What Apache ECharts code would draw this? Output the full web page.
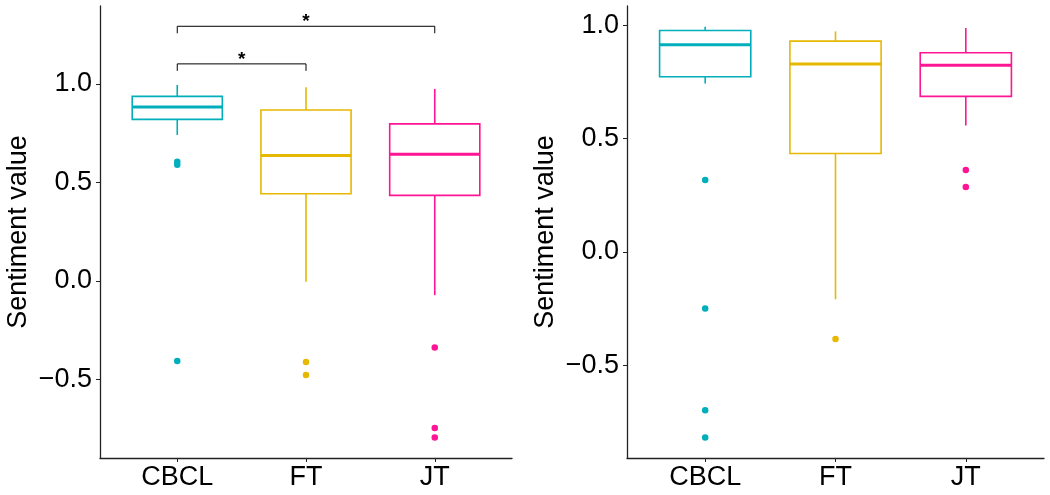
<!DOCTYPE html>
<html>
<head>
<meta charset="utf-8">
<script src="https://cdn.jsdelivr.net/npm/echarts@6.0.0/dist/echarts.min.js"></script>
<style>
html,body{margin:0;padding:0;background:#fff;}
#chart{width:1050px;height:495px;}
</style>
</head>
<body>
<div id="chart"></div>
<script>
// ---- data ----
const categories = ['CBCL', 'FT', 'JT'];
const xPositions = [1, 2, 3];
const yTicks = [-0.5, 0, 0.5, 1.0];
// [lower whisker, Q1, median, Q3, upper whisker]
const leftStats = [
  [0.741, 0.820, 0.883, 0.937, 0.995],
  [-0.005, 0.442, 0.636, 0.868, 0.983],
  [-0.073, 0.434, 0.643, 0.797, 0.975]
];
const leftOutliers = [
  [0.605, 0.590, -0.407],
  [-0.412, -0.479],
  [-0.339, -0.747, -0.796]
];
const rightStats = [
  [0.743, 0.773, 0.914, 0.977, 0.993],
  [-0.209, 0.434, 0.829, 0.930, 0.973],
  [0.558, 0.686, 0.824, 0.879, 0.988]
];
const rightOutliers = [
  [0.317, -0.250, -0.699, -0.819],
  [-0.384],
  [0.361, 0.286]
];
// significance brackets (left panel)
const bracketFrom = [0, 0];
const bracketTo = [1, 2];
const bracketLevel = [1.102, 1.293];
const bracketLabel = ['*', '*'];

// ---- style ----
const colors = ['#00AFBB', '#E7B800', '#FF1493'];
const FONT = 'Liberation Sans, Arial, Helvetica, sans-serif';
const axisColor = '#222';
const halfWidth = 0.35;

function boxRender(params, api) {
  const x = api.value(0);
  const lo = api.value(1), q1 = api.value(2), med = api.value(3), q3 = api.value(4), hi = api.value(5);
  const c = api.coord;
  const tl = c([x - halfWidth, q3]);
  const br = c([x + halfWidth, q1]);
  const pHi = c([x, hi]), pQ3 = c([x, q3]), pQ1 = c([x, q1]), pLo = c([x, lo]);
  const mL = c([x - halfWidth, med]), mR = c([x + halfWidth, med]);
  const col = colors[params.dataIndex];
  return {
    type: 'group',
    children: [
      {type: 'line', shape: {x1: pHi[0], y1: pHi[1], x2: pQ3[0], y2: pQ3[1]}, style: {stroke: col, lineWidth: 1.6}},
      {type: 'line', shape: {x1: pQ1[0], y1: pQ1[1], x2: pLo[0], y2: pLo[1]}, style: {stroke: col, lineWidth: 1.6}},
      {type: 'rect', shape: {x: tl[0], y: tl[1], width: br[0] - tl[0], height: br[1] - tl[1]}, style: {stroke: col, fill: 'none', lineWidth: 1.6}},
      {type: 'line', shape: {x1: mL[0], y1: mL[1], x2: mR[0], y2: mR[1]}, style: {stroke: col, lineWidth: 3}}
    ]
  };
}

function bracketRender(params, api) {
  const x1 = api.value(0), x2 = api.value(1), y = api.value(2);
  const a = api.coord([x1, y]);
  const b = api.coord([x2, y]);
  const drop = 7;
  return {
    type: 'group',
    children: [
      {type: 'polyline', shape: {points: [[a[0], a[1] + drop], [a[0], a[1]], [b[0], b[1]], [b[0], b[1] + drop]]},
        style: {stroke: '#000', fill: 'none', lineWidth: 1}},
      {type: 'text', x: (a[0] + b[0]) / 2, y: a[1] + 5,
        style: {text: bracketLabel[params.dataIndex], fill: '#000', font: 'bold 19px ' + FONT, align: 'center', verticalAlign: 'bottom'}}
    ]
  };
}

function makeOutlierData(outs) {
  const d = [];
  outs.forEach((arr, i) => arr.forEach(v => d.push({value: [xPositions[i], v], itemStyle: {color: colors[i], opacity: 1}})));
  return d;
}

function xAxisCfg(gi) {
  return {
    type: 'value', gridIndex: gi, min: 0.4, max: 3.6,
    axisLine: {show: true, onZero: false, lineStyle: {color: axisColor, width: 1.3}},
    axisTick: {show: true, customValues: xPositions, length: 4, lineStyle: {color: axisColor}},
    axisLabel: {customValues: xPositions, margin: 6, color: '#000', fontSize: 27, fontFamily: FONT,
      formatter: v => categories[Math.round(v) - 1]},
    splitLine: {show: false}
  };
}
function yAxisCfg(gi, mn, mx) {
  return {
    type: 'value', gridIndex: gi, min: mn, max: mx,
    name: 'Sentiment value', nameLocation: 'middle', nameGap: 68,
    nameTextStyle: {color: '#000', fontSize: 27, fontFamily: FONT},
    axisLine: {show: true, onZero: false, lineStyle: {color: axisColor, width: 1.3}},
    axisTick: {show: true, customValues: yTicks, length: 4, lineStyle: {color: axisColor}},
    axisLabel: {customValues: yTicks, margin: 8, color: '#000', fontSize: 27, fontFamily: FONT,
      formatter: v => v.toFixed(1).replace('-', '\u2212')},
    splitLine: {show: false}
  };
}

const chart = echarts.init(document.getElementById('chart'), null, {renderer: 'canvas'});
chart.setOption({
  animation: false,
  backgroundColor: '#fff',
  grid: [
    {left: 100, right: 538, top: 6, bottom: 37},
    {left: 627, right: 6, top: 6, bottom: 37}
  ],
  xAxis: [xAxisCfg(0), xAxisCfg(1)],
  yAxis: [yAxisCfg(0, -0.900, 1.396), yAxisCfg(1, -0.9095, 1.085)],
  series: [
    {type: 'custom', xAxisIndex: 0, yAxisIndex: 0, renderItem: boxRender,
      encode: {x: 0, y: [1, 2, 3, 4, 5]},
      data: leftStats.map((s, i) => [xPositions[i]].concat(s))},
    {type: 'custom', xAxisIndex: 1, yAxisIndex: 1, renderItem: boxRender,
      encode: {x: 0, y: [1, 2, 3, 4, 5]},
      data: rightStats.map((s, i) => [xPositions[i]].concat(s))},
    {type: 'scatter', xAxisIndex: 0, yAxisIndex: 0, symbolSize: 6.5, data: makeOutlierData(leftOutliers)},
    {type: 'scatter', xAxisIndex: 1, yAxisIndex: 1, symbolSize: 6.5, data: makeOutlierData(rightOutliers)},
    {type: 'custom', xAxisIndex: 0, yAxisIndex: 0, renderItem: bracketRender,
      encode: {x: [0, 1], y: 2},
      data: bracketFrom.map((f, i) => [xPositions[f], xPositions[bracketTo[i]], bracketLevel[i]])}
  ]
});
</script>
</body>
</html>
